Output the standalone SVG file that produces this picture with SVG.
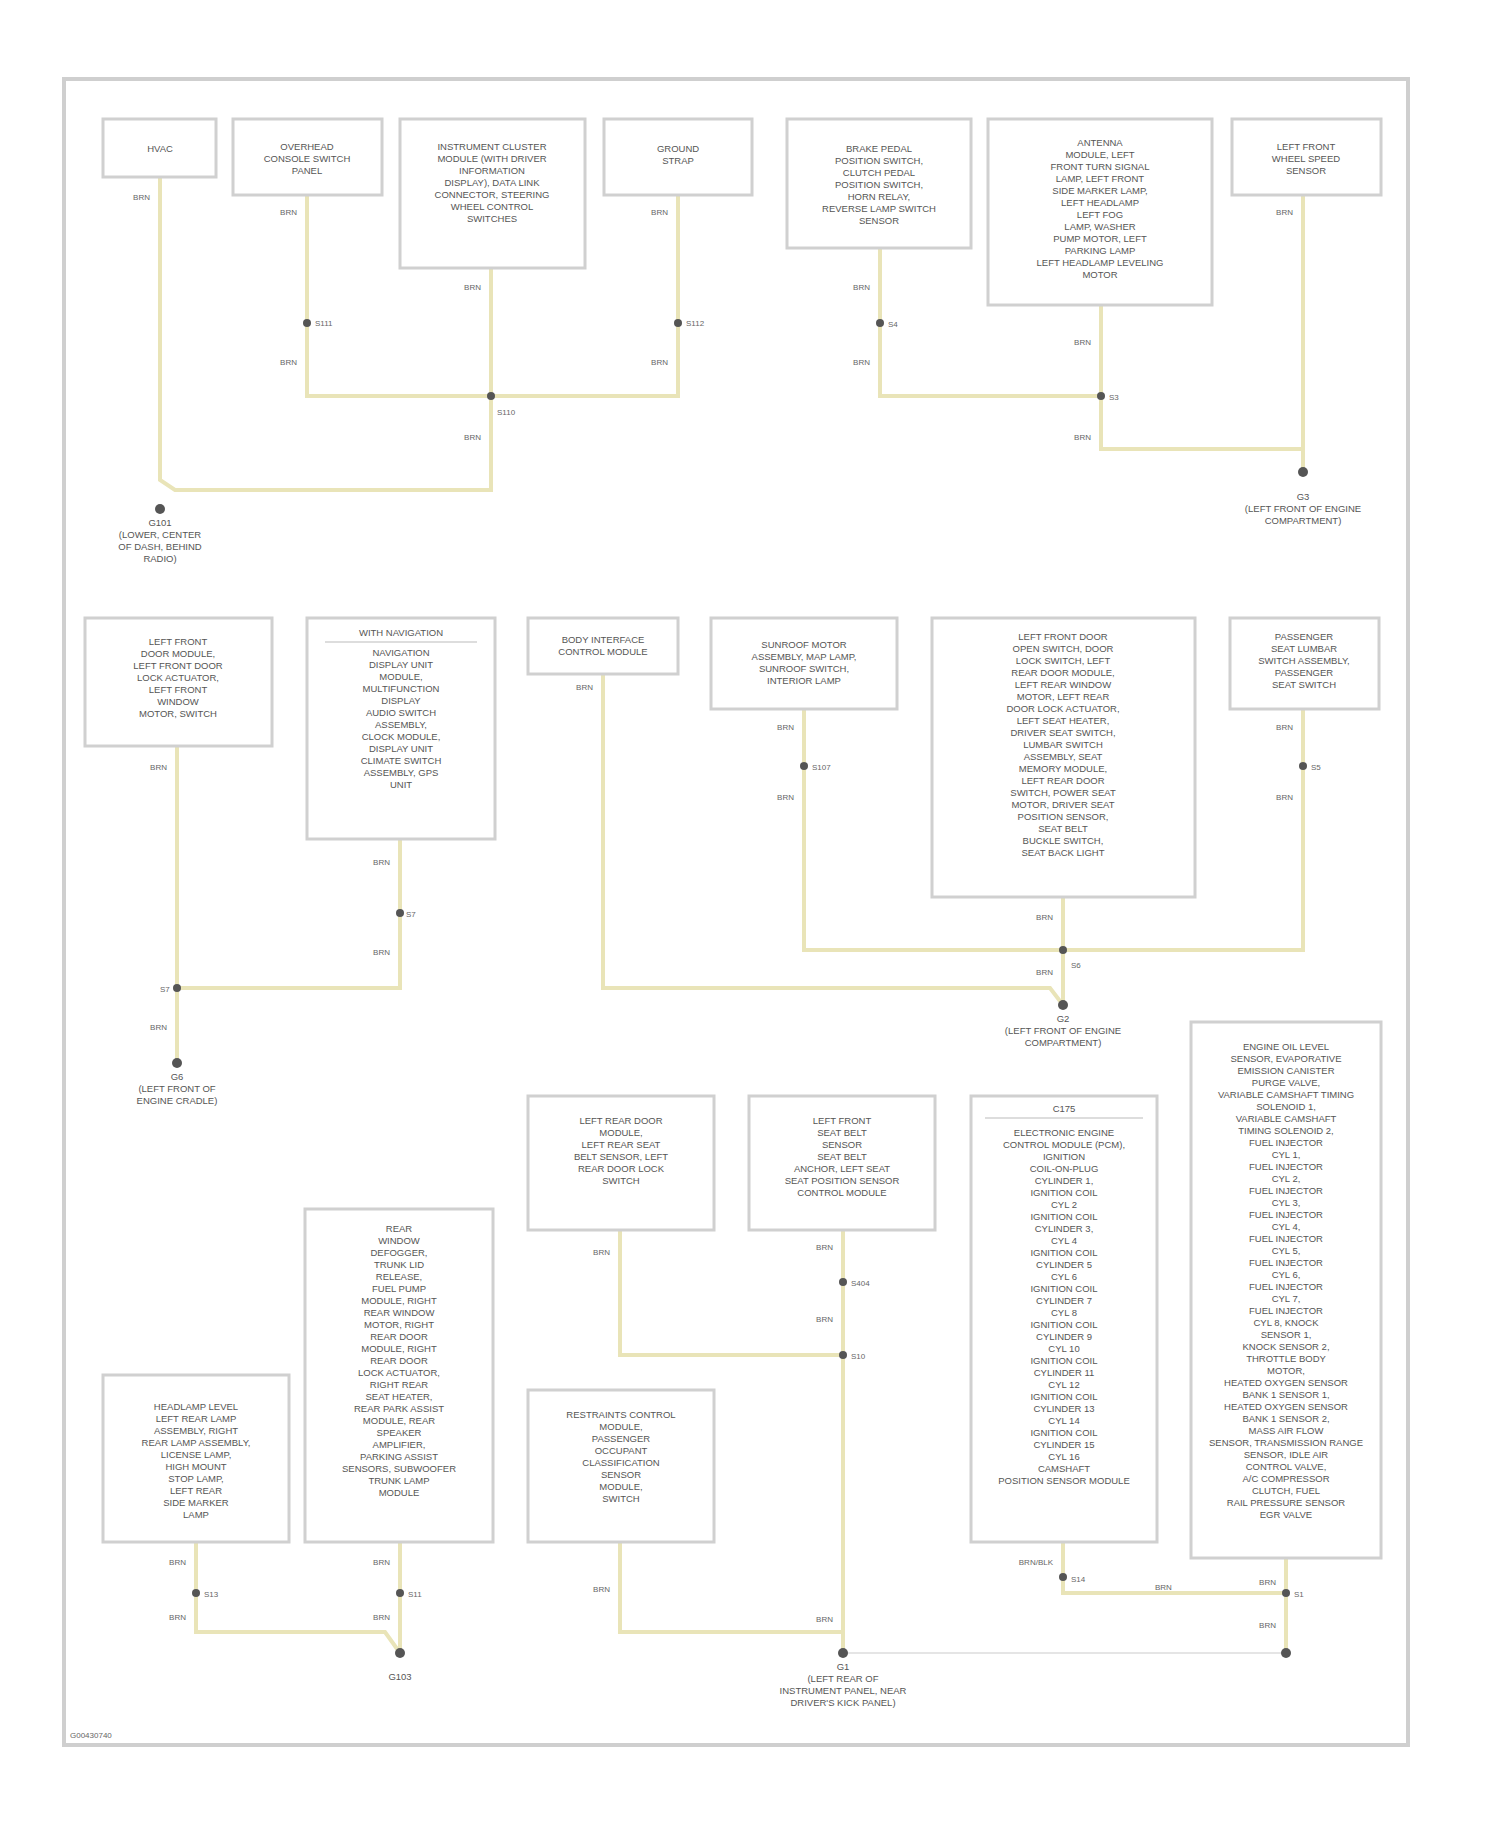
<svg xmlns="http://www.w3.org/2000/svg" width="1500" height="1828" viewBox="0 0 1500 1828">
<style>
.bx{fill:#fff;stroke:#d0d0d0;stroke-width:3}
.t{font-family:"Liberation Sans",Arial,sans-serif;font-size:9.5px;fill:#555;text-anchor:middle}
.wl{font-family:"Liberation Sans",Arial,sans-serif;font-size:8px;fill:#666;text-anchor:end}
.sl{font-family:"Liberation Sans",Arial,sans-serif;font-size:8px;fill:#666}
.w{fill:none;stroke:#e9e4b8;stroke-width:4}
.g{fill:#555}
</style>
<rect width="1500" height="1828" fill="#fff"/>
<rect x="64" y="79" width="1344" height="1666" fill="none" stroke="#cfcfcf" stroke-width="4"/>
<text x="70" y="1738" class="sl">G00430740</text>
<g id="connectors">
<path class="w" d="M160 177V480L175 490H491V268"/>
<path class="w" d="M307 195V396H678V195"/>
<path class="w" d="M880 248V396H1101"/>
<path class="w" d="M1101 305V449H1303V472"/>
<path class="w" d="M1303 195V472"/>
<path class="w" d="M177 746V1063"/>
<path class="w" d="M400 839V988H177"/>
<path class="w" d="M603 674V988H1050L1063 1005"/>
<path class="w" d="M804 709V950H1303V709"/>
<path class="w" d="M1063 897V1005"/>
<path class="w" d="M196 1542V1632H385L400 1653"/>
<path class="w" d="M400 1542V1653"/>
<path class="w" d="M620 1542V1632H843"/>
<path class="w" d="M620 1230V1355H843"/>
<path class="w" d="M843 1230V1653"/>
<path class="w" d="M1063 1542V1593H1286"/>
<path class="w" d="M1286 1558V1653"/>
<path d="M843 1653H1286" stroke="#ddd" stroke-width="1.5" fill="none"/>
<g class="g">
<circle cx="307" cy="323" r="4"/><circle cx="678" cy="323" r="4"/><circle cx="491" cy="396" r="4"/><circle cx="160" cy="509" r="5"/>
<circle cx="880" cy="323" r="4"/><circle cx="1101" cy="396" r="4"/><circle cx="1303" cy="472" r="5"/>
<circle cx="400" cy="913" r="4"/><circle cx="177" cy="988" r="4"/><circle cx="177" cy="1063" r="5"/>
<circle cx="804" cy="766" r="4"/><circle cx="1303" cy="766" r="4"/><circle cx="1063" cy="950" r="4"/><circle cx="1063" cy="1005" r="5"/>
<circle cx="196" cy="1593" r="4"/><circle cx="400" cy="1593" r="4"/><circle cx="400" cy="1653" r="5"/>
<circle cx="843" cy="1282" r="4"/><circle cx="843" cy="1355" r="4"/><circle cx="843" cy="1653" r="5"/>
<circle cx="1063" cy="1577" r="4"/><circle cx="1286" cy="1593" r="4"/><circle cx="1286" cy="1653" r="5"/>
</g>
<g class="wl">
<text x="150" y="200">BRN</text><text x="297" y="215">BRN</text><text x="297" y="365">BRN</text><text x="481" y="290">BRN</text><text x="481" y="440">BRN</text><text x="668" y="215">BRN</text><text x="668" y="365">BRN</text>
<text x="870" y="290">BRN</text><text x="870" y="365">BRN</text><text x="1091" y="345">BRN</text><text x="1091" y="440">BRN</text><text x="1293" y="215">BRN</text>
<text x="167" y="770">BRN</text><text x="390" y="865">BRN</text><text x="390" y="955">BRN</text><text x="167" y="1030">BRN</text>
<text x="593" y="690">BRN</text><text x="794" y="730">BRN</text><text x="794" y="800">BRN</text><text x="1053" y="920">BRN</text><text x="1053" y="975">BRN</text><text x="1293" y="730">BRN</text><text x="1293" y="800">BRN</text>
<text x="186" y="1565">BRN</text><text x="186" y="1620">BRN</text><text x="390" y="1565">BRN</text><text x="390" y="1620">BRN</text>
<text x="610" y="1255">BRN</text><text x="610" y="1592">BRN</text><text x="833" y="1250">BRN</text><text x="833" y="1322">BRN</text><text x="833" y="1622">BRN</text>
<text x="1053" y="1565">BRN/BLK</text><text x="1276" y="1585">BRN</text><text x="1276" y="1628">BRN</text>
</g>
<g class="sl">
<text x="315" y="326">S111</text><text x="686" y="326">S112</text><text x="497" y="415">S110</text><text x="888" y="327">S4</text><text x="1109" y="400">S3</text>
<text x="406" y="917">S7</text><text x="160" y="992">S7</text><text x="812" y="770">S107</text><text x="1311" y="770">S5</text><text x="1071" y="968">S6</text>
<text x="204" y="1597">S13</text><text x="408" y="1597">S11</text><text x="851" y="1286">S404</text><text x="851" y="1359">S10</text><text x="1071" y="1582">S14</text><text x="1294" y="1597">S1</text>
<text x="1155" y="1590">BRN</text>
</g>
</g>
<g class="t">
<text x="160" y="526">G101</text><text x="160" y="538">(LOWER, CENTER</text><text x="160" y="550">OF DASH, BEHIND</text><text x="160" y="562">RADIO)</text>
<text x="1303" y="500">G3</text><text x="1303" y="512">(LEFT FRONT OF ENGINE</text><text x="1303" y="524">COMPARTMENT)</text>
<text x="177" y="1080">G6</text><text x="177" y="1092">(LEFT FRONT OF</text><text x="177" y="1104">ENGINE CRADLE)</text>
<text x="1063" y="1022">G2</text><text x="1063" y="1034">(LEFT FRONT OF ENGINE</text><text x="1063" y="1046">COMPARTMENT)</text>
<text x="400" y="1680">G103</text>
<text x="843" y="1670">G1</text><text x="843" y="1682">(LEFT REAR OF</text><text x="843" y="1694">INSTRUMENT PANEL, NEAR</text><text x="843" y="1706">DRIVER'S KICK PANEL)</text>
</g>
<g id="n1"><rect class="bx" x="103" y="119" width="113" height="58"/><text class="t" x="160" y="152">HVAC</text></g>
<g id="n2"><rect class="bx" x="233" y="119" width="149" height="76"/><text class="t"><tspan x="307" y="150">OVERHEAD</tspan><tspan x="307" y="162">CONSOLE SWITCH</tspan><tspan x="307" y="174">PANEL</tspan></text></g>
<g id="n3"><rect class="bx" x="400" y="119" width="185" height="149"/><text class="t"><tspan x="492" y="150">INSTRUMENT CLUSTER</tspan><tspan x="492" y="162">MODULE (WITH DRIVER</tspan><tspan x="492" y="174">INFORMATION</tspan><tspan x="492" y="186">DISPLAY), DATA LINK</tspan><tspan x="492" y="198">CONNECTOR, STEERING</tspan><tspan x="492" y="210">WHEEL CONTROL</tspan><tspan x="492" y="222">SWITCHES</tspan></text></g>
<g id="n4"><rect class="bx" x="604" y="119" width="148" height="76"/><text class="t"><tspan x="678" y="152">GROUND</tspan><tspan x="678" y="164">STRAP</tspan></text></g>
<g id="n5"><rect class="bx" x="787" y="119" width="184" height="129"/><text class="t"><tspan x="879" y="152">BRAKE PEDAL</tspan><tspan x="879" y="164">POSITION SWITCH,</tspan><tspan x="879" y="176">CLUTCH PEDAL</tspan><tspan x="879" y="188">POSITION SWITCH,</tspan><tspan x="879" y="200">HORN RELAY,</tspan><tspan x="879" y="212">REVERSE LAMP SWITCH</tspan><tspan x="879" y="224">SENSOR</tspan></text></g>
<g id="n6"><rect class="bx" x="988" y="119" width="224" height="186"/><text class="t"><tspan x="1100" y="146">ANTENNA</tspan><tspan x="1100" y="158">MODULE, LEFT</tspan><tspan x="1100" y="170">FRONT TURN SIGNAL</tspan><tspan x="1100" y="182">LAMP, LEFT FRONT</tspan><tspan x="1100" y="194">SIDE MARKER LAMP,</tspan><tspan x="1100" y="206">LEFT HEADLAMP</tspan><tspan x="1100" y="218">LEFT FOG</tspan><tspan x="1100" y="230">LAMP, WASHER</tspan><tspan x="1100" y="242">PUMP MOTOR, LEFT</tspan><tspan x="1100" y="254">PARKING LAMP</tspan><tspan x="1100" y="266">LEFT HEADLAMP LEVELING</tspan><tspan x="1100" y="278">MOTOR</tspan></text></g>
<g id="n7"><rect class="bx" x="1232" y="119" width="149" height="76"/><text class="t"><tspan x="1306" y="150">LEFT FRONT</tspan><tspan x="1306" y="162">WHEEL SPEED</tspan><tspan x="1306" y="174">SENSOR</tspan></text></g>
<g id="n8"><rect class="bx" x="85" y="618" width="187" height="128"/><text class="t"><tspan x="178" y="645">LEFT FRONT</tspan><tspan x="178" y="657">DOOR MODULE,</tspan><tspan x="178" y="669">LEFT FRONT DOOR</tspan><tspan x="178" y="681">LOCK ACTUATOR,</tspan><tspan x="178" y="693">LEFT FRONT</tspan><tspan x="178" y="705">WINDOW</tspan><tspan x="178" y="717">MOTOR, SWITCH</tspan></text></g>
<g id="n9"><rect class="bx" x="307" y="618" width="188" height="221"/><text class="t"><tspan x="401" y="636">WITH NAVIGATION</tspan></text><path d="M325 642H477" stroke="#bbb" stroke-width="1"/><text class="t"><tspan x="401" y="656">NAVIGATION</tspan><tspan x="401" y="668">DISPLAY UNIT</tspan><tspan x="401" y="680">MODULE,</tspan><tspan x="401" y="692">MULTIFUNCTION</tspan><tspan x="401" y="704">DISPLAY</tspan><tspan x="401" y="716">AUDIO SWITCH</tspan><tspan x="401" y="728">ASSEMBLY,</tspan><tspan x="401" y="740">CLOCK MODULE,</tspan><tspan x="401" y="752">DISPLAY UNIT</tspan><tspan x="401" y="764">CLIMATE SWITCH</tspan><tspan x="401" y="776">ASSEMBLY, GPS</tspan><tspan x="401" y="788">UNIT</tspan></text></g>
<g id="n10"><rect class="bx" x="528" y="618" width="150" height="56"/><text class="t"><tspan x="603" y="643">BODY INTERFACE</tspan><tspan x="603" y="655">CONTROL MODULE</tspan></text></g>
<g id="n11"><rect class="bx" x="711" y="618" width="186" height="91"/><text class="t"><tspan x="804" y="648">SUNROOF MOTOR</tspan><tspan x="804" y="660">ASSEMBLY, MAP LAMP,</tspan><tspan x="804" y="672">SUNROOF SWITCH,</tspan><tspan x="804" y="684">INTERIOR LAMP</tspan></text></g>
<g id="n12"><rect class="bx" x="932" y="618" width="263" height="279"/><text class="t"><tspan x="1063" y="640">LEFT FRONT DOOR</tspan><tspan x="1063" y="652">OPEN SWITCH, DOOR</tspan><tspan x="1063" y="664">LOCK SWITCH, LEFT</tspan><tspan x="1063" y="676">REAR DOOR MODULE,</tspan><tspan x="1063" y="688">LEFT REAR WINDOW</tspan><tspan x="1063" y="700">MOTOR, LEFT REAR</tspan><tspan x="1063" y="712">DOOR LOCK ACTUATOR,</tspan><tspan x="1063" y="724">LEFT SEAT HEATER,</tspan><tspan x="1063" y="736">DRIVER SEAT SWITCH,</tspan><tspan x="1063" y="748">LUMBAR SWITCH</tspan><tspan x="1063" y="760">ASSEMBLY, SEAT</tspan><tspan x="1063" y="772">MEMORY MODULE,</tspan><tspan x="1063" y="784">LEFT REAR DOOR</tspan><tspan x="1063" y="796">SWITCH, POWER SEAT</tspan><tspan x="1063" y="808">MOTOR, DRIVER SEAT</tspan><tspan x="1063" y="820">POSITION SENSOR,</tspan><tspan x="1063" y="832">SEAT BELT</tspan><tspan x="1063" y="844">BUCKLE SWITCH,</tspan><tspan x="1063" y="856">SEAT BACK LIGHT</tspan></text></g>
<g id="n13"><rect class="bx" x="1230" y="618" width="149" height="91"/><text class="t"><tspan x="1304" y="640">PASSENGER</tspan><tspan x="1304" y="652">SEAT LUMBAR</tspan><tspan x="1304" y="664">SWITCH ASSEMBLY,</tspan><tspan x="1304" y="676">PASSENGER</tspan><tspan x="1304" y="688">SEAT SWITCH</tspan></text></g>
<g id="n14"><rect class="bx" x="103" y="1375" width="186" height="167"/><text class="t"><tspan x="196" y="1410">HEADLAMP LEVEL</tspan><tspan x="196" y="1422">LEFT REAR LAMP</tspan><tspan x="196" y="1434">ASSEMBLY, RIGHT</tspan><tspan x="196" y="1446">REAR LAMP ASSEMBLY,</tspan><tspan x="196" y="1458">LICENSE LAMP,</tspan><tspan x="196" y="1470">HIGH MOUNT</tspan><tspan x="196" y="1482">STOP LAMP,</tspan><tspan x="196" y="1494">LEFT REAR</tspan><tspan x="196" y="1506">SIDE MARKER</tspan><tspan x="196" y="1518">LAMP</tspan></text></g>
<g id="n15"><rect class="bx" x="305" y="1209" width="188" height="333"/><text class="t"><tspan x="399" y="1232">REAR</tspan><tspan x="399" y="1244">WINDOW</tspan><tspan x="399" y="1256">DEFOGGER,</tspan><tspan x="399" y="1268">TRUNK LID</tspan><tspan x="399" y="1280">RELEASE,</tspan><tspan x="399" y="1292">FUEL PUMP</tspan><tspan x="399" y="1304">MODULE, RIGHT</tspan><tspan x="399" y="1316">REAR WINDOW</tspan><tspan x="399" y="1328">MOTOR, RIGHT</tspan><tspan x="399" y="1340">REAR DOOR</tspan><tspan x="399" y="1352">MODULE, RIGHT</tspan><tspan x="399" y="1364">REAR DOOR</tspan><tspan x="399" y="1376">LOCK ACTUATOR,</tspan><tspan x="399" y="1388">RIGHT REAR</tspan><tspan x="399" y="1400">SEAT HEATER,</tspan><tspan x="399" y="1412">REAR PARK ASSIST</tspan><tspan x="399" y="1424">MODULE, REAR</tspan><tspan x="399" y="1436">SPEAKER</tspan><tspan x="399" y="1448">AMPLIFIER,</tspan><tspan x="399" y="1460">PARKING ASSIST</tspan><tspan x="399" y="1472">SENSORS, SUBWOOFER</tspan><tspan x="399" y="1484">TRUNK LAMP</tspan><tspan x="399" y="1496">MODULE</tspan></text></g>
<g id="n16"><rect class="bx" x="528" y="1096" width="186" height="134"/><text class="t"><tspan x="621" y="1124">LEFT REAR DOOR</tspan><tspan x="621" y="1136">MODULE,</tspan><tspan x="621" y="1148">LEFT REAR SEAT</tspan><tspan x="621" y="1160">BELT SENSOR, LEFT</tspan><tspan x="621" y="1172">REAR DOOR LOCK</tspan><tspan x="621" y="1184">SWITCH</tspan></text></g>
<g id="n17"><rect class="bx" x="749" y="1096" width="186" height="134"/><text class="t"><tspan x="842" y="1124">LEFT FRONT</tspan><tspan x="842" y="1136">SEAT BELT</tspan><tspan x="842" y="1148">SENSOR</tspan><tspan x="842" y="1160">SEAT BELT</tspan><tspan x="842" y="1172">ANCHOR, LEFT SEAT</tspan><tspan x="842" y="1184">SEAT POSITION SENSOR</tspan><tspan x="842" y="1196">CONTROL MODULE</tspan></text></g>
<g id="n18"><rect class="bx" x="528" y="1390" width="186" height="152"/><text class="t"><tspan x="621" y="1418">RESTRAINTS CONTROL</tspan><tspan x="621" y="1430">MODULE,</tspan><tspan x="621" y="1442">PASSENGER</tspan><tspan x="621" y="1454">OCCUPANT</tspan><tspan x="621" y="1466">CLASSIFICATION</tspan><tspan x="621" y="1478">SENSOR</tspan><tspan x="621" y="1490">MODULE,</tspan><tspan x="621" y="1502">SWITCH</tspan></text></g>
<g id="n19"><rect class="bx" x="971" y="1096" width="186" height="446"/><text class="t"><tspan x="1064" y="1112">C175</tspan></text><path d="M985 1118H1143" stroke="#bbb" stroke-width="1"/><text class="t"><tspan x="1064" y="1136">ELECTRONIC ENGINE</tspan><tspan x="1064" y="1148">CONTROL MODULE (PCM),</tspan><tspan x="1064" y="1160">IGNITION</tspan><tspan x="1064" y="1172">COIL-ON-PLUG</tspan><tspan x="1064" y="1184">CYLINDER 1,</tspan><tspan x="1064" y="1196">IGNITION COIL</tspan><tspan x="1064" y="1208">CYL 2</tspan><tspan x="1064" y="1220">IGNITION COIL</tspan><tspan x="1064" y="1232">CYLINDER 3,</tspan><tspan x="1064" y="1244">CYL 4</tspan><tspan x="1064" y="1256">IGNITION COIL</tspan><tspan x="1064" y="1268">CYLINDER 5</tspan><tspan x="1064" y="1280">CYL 6</tspan><tspan x="1064" y="1292">IGNITION COIL</tspan><tspan x="1064" y="1304">CYLINDER 7</tspan><tspan x="1064" y="1316">CYL 8</tspan><tspan x="1064" y="1328">IGNITION COIL</tspan><tspan x="1064" y="1340">CYLINDER 9</tspan><tspan x="1064" y="1352">CYL 10</tspan><tspan x="1064" y="1364">IGNITION COIL</tspan><tspan x="1064" y="1376">CYLINDER 11</tspan><tspan x="1064" y="1388">CYL 12</tspan><tspan x="1064" y="1400">IGNITION COIL</tspan><tspan x="1064" y="1412">CYLINDER 13</tspan><tspan x="1064" y="1424">CYL 14</tspan><tspan x="1064" y="1436">IGNITION COIL</tspan><tspan x="1064" y="1448">CYLINDER 15</tspan><tspan x="1064" y="1460">CYL 16</tspan><tspan x="1064" y="1472">CAMSHAFT</tspan><tspan x="1064" y="1484">POSITION SENSOR MODULE</tspan></text></g>
<g id="n20"><rect class="bx" x="1191" y="1022" width="190" height="536"/><text class="t"><tspan x="1286" y="1050">ENGINE OIL LEVEL</tspan><tspan x="1286" y="1062">SENSOR, EVAPORATIVE</tspan><tspan x="1286" y="1074">EMISSION CANISTER</tspan><tspan x="1286" y="1086">PURGE VALVE,</tspan><tspan x="1286" y="1098">VARIABLE CAMSHAFT TIMING</tspan><tspan x="1286" y="1110">SOLENOID 1,</tspan><tspan x="1286" y="1122">VARIABLE CAMSHAFT</tspan><tspan x="1286" y="1134">TIMING SOLENOID 2,</tspan><tspan x="1286" y="1146">FUEL INJECTOR</tspan><tspan x="1286" y="1158">CYL 1,</tspan><tspan x="1286" y="1170">FUEL INJECTOR</tspan><tspan x="1286" y="1182">CYL 2,</tspan><tspan x="1286" y="1194">FUEL INJECTOR</tspan><tspan x="1286" y="1206">CYL 3,</tspan><tspan x="1286" y="1218">FUEL INJECTOR</tspan><tspan x="1286" y="1230">CYL 4,</tspan><tspan x="1286" y="1242">FUEL INJECTOR</tspan><tspan x="1286" y="1254">CYL 5,</tspan><tspan x="1286" y="1266">FUEL INJECTOR</tspan><tspan x="1286" y="1278">CYL 6,</tspan><tspan x="1286" y="1290">FUEL INJECTOR</tspan><tspan x="1286" y="1302">CYL 7,</tspan><tspan x="1286" y="1314">FUEL INJECTOR</tspan><tspan x="1286" y="1326">CYL 8, KNOCK</tspan><tspan x="1286" y="1338">SENSOR 1,</tspan><tspan x="1286" y="1350">KNOCK SENSOR 2,</tspan><tspan x="1286" y="1362">THROTTLE BODY</tspan><tspan x="1286" y="1374">MOTOR,</tspan><tspan x="1286" y="1386">HEATED OXYGEN SENSOR</tspan><tspan x="1286" y="1398">BANK 1 SENSOR 1,</tspan><tspan x="1286" y="1410">HEATED OXYGEN SENSOR</tspan><tspan x="1286" y="1422">BANK 1 SENSOR 2,</tspan><tspan x="1286" y="1434">MASS AIR FLOW</tspan><tspan x="1286" y="1446">SENSOR, TRANSMISSION RANGE</tspan><tspan x="1286" y="1458">SENSOR, IDLE AIR</tspan><tspan x="1286" y="1470">CONTROL VALVE,</tspan><tspan x="1286" y="1482">A/C COMPRESSOR</tspan><tspan x="1286" y="1494">CLUTCH, FUEL</tspan><tspan x="1286" y="1506">RAIL PRESSURE SENSOR</tspan><tspan x="1286" y="1518">EGR VALVE</tspan></text></g>
</svg>
